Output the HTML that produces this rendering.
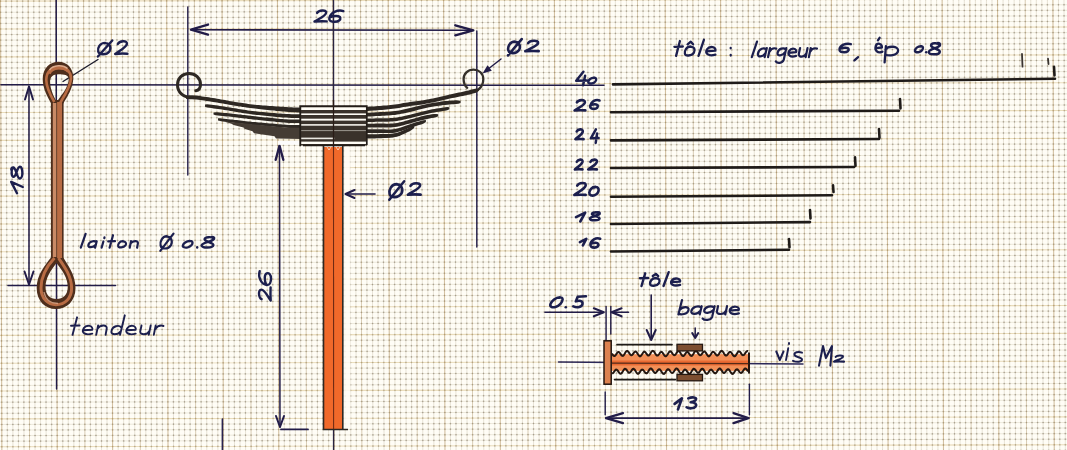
<!DOCTYPE html>
<html><head><meta charset="utf-8"><title>Ressort à lames</title>
<style>
html,body{margin:0;padding:0;background:#fffdf6;width:1067px;height:450px;overflow:hidden;}
svg{display:block;font-family:"Liberation Sans",sans-serif;}
</style></head><body>
<svg width="1067" height="450" viewBox="0 0 1067 450">
<rect width="1067" height="450" fill="#fffdf6"/>
<path d="M0 6.72L1067 4.74M0 12.29L1067 10.31M0 17.86L1067 15.88M0 23.43L1067 21.45M0 34.57L1067 32.59M0 40.14L1067 38.16M0 45.71L1067 43.73M0 51.28L1067 49.30M0 62.42L1067 60.44M0 67.99L1067 66.01M0 73.56L1067 71.58M0 79.13L1067 77.15M0 90.27L1067 88.29M0 95.84L1067 93.86M0 101.41L1067 99.43M0 106.98L1067 105.00M0 118.12L1067 116.14M0 123.69L1067 121.71M0 129.26L1067 127.28M0 134.83L1067 132.85M0 145.97L1067 143.99M0 151.54L1067 149.56M0 157.11L1067 155.13M0 162.68L1067 160.70M0 173.82L1067 171.84M0 179.39L1067 177.41M0 184.96L1067 182.98M0 190.53L1067 188.55M0 201.67L1067 199.69M0 207.24L1067 205.26M0 212.81L1067 210.83M0 218.38L1067 216.40M0 229.52L1067 227.54M0 235.09L1067 233.11M0 240.66L1067 238.68M0 246.23L1067 244.25M0 257.37L1067 255.39M0 262.94L1067 260.96M0 268.51L1067 266.53M0 274.08L1067 272.10M0 285.22L1067 283.24M0 290.79L1067 288.81M0 296.36L1067 294.38M0 301.93L1067 299.95M0 313.07L1067 311.09M0 318.64L1067 316.66M0 324.21L1067 322.23M0 329.78L1067 327.80M0 340.92L1067 338.94M0 346.49L1067 344.51M0 352.06L1067 350.08M0 357.63L1067 355.65M0 368.77L1067 366.79M0 374.34L1067 372.36M0 379.91L1067 377.93M0 385.48L1067 383.50M0 396.62L1067 394.64M0 402.19L1067 400.21M0 407.76L1067 405.78M0 413.33L1067 411.35M0 424.47L1067 422.49M0 430.04L1067 428.06M0 435.61L1067 433.63M0 441.18L1067 439.20M0 452.32L1067 450.34" stroke="rgba(160,148,108,0.22)" stroke-width="0.9" fill="none"/>
<path d="M6.05 0L7.40 450M11.59 0L12.94 450M17.13 0L18.48 450M22.67 0L24.02 450M33.74 0L35.09 450M39.28 0L40.63 450M44.82 0L46.17 450M50.36 0L51.71 450M61.44 0L62.79 450M66.98 0L68.33 450M72.52 0L73.87 450M78.06 0L79.41 450M89.13 0L90.48 450M94.67 0L96.02 450M100.21 0L101.56 450M105.75 0L107.10 450M116.83 0L118.18 450M122.37 0L123.72 450M127.91 0L129.26 450M133.45 0L134.80 450M144.52 0L145.87 450M150.06 0L151.41 450M155.60 0L156.95 450M161.14 0L162.49 450M172.22 0L173.57 450M177.76 0L179.11 450M183.30 0L184.65 450M188.84 0L190.19 450M199.91 0L201.26 450M205.45 0L206.80 450M210.99 0L212.34 450M216.53 0L217.88 450M227.61 0L228.96 450M233.15 0L234.50 450M238.69 0L240.04 450M244.23 0L245.58 450M255.30 0L256.65 450M260.84 0L262.19 450M266.38 0L267.73 450M271.92 0L273.27 450M283.00 0L284.35 450M288.54 0L289.89 450M294.08 0L295.43 450M299.62 0L300.97 450M310.69 0L312.04 450M316.23 0L317.58 450M321.77 0L323.12 450M327.31 0L328.66 450M338.39 0L339.74 450M343.93 0L345.28 450M349.47 0L350.82 450M355.01 0L356.36 450M366.08 0L367.43 450M371.62 0L372.97 450M377.16 0L378.51 450M382.70 0L384.05 450M393.78 0L395.13 450M399.32 0L400.67 450M404.86 0L406.21 450M410.40 0L411.75 450M421.47 0L422.82 450M427.01 0L428.36 450M432.55 0L433.90 450M438.09 0L439.44 450M449.17 0L450.52 450M454.71 0L456.06 450M460.25 0L461.60 450M465.79 0L467.14 450M476.86 0L478.21 450M482.40 0L483.75 450M487.94 0L489.29 450M493.48 0L494.83 450M504.56 0L505.91 450M510.10 0L511.45 450M515.64 0L516.99 450M521.18 0L522.53 450M532.25 0L533.60 450M537.79 0L539.14 450M543.33 0L544.68 450M548.87 0L550.22 450M559.95 0L561.30 450M565.49 0L566.84 450M571.03 0L572.38 450M576.57 0L577.92 450M587.64 0L588.99 450M593.18 0L594.53 450M598.72 0L600.07 450M604.26 0L605.61 450M615.34 0L616.69 450M620.88 0L622.23 450M626.42 0L627.77 450M631.96 0L633.31 450M643.03 0L644.38 450M648.57 0L649.92 450M654.11 0L655.46 450M659.65 0L661.00 450M670.73 0L672.08 450M676.27 0L677.62 450M681.81 0L683.16 450M687.35 0L688.70 450M698.42 0L699.77 450M703.96 0L705.31 450M709.50 0L710.85 450M715.04 0L716.39 450M726.12 0L727.47 450M731.66 0L733.01 450M737.20 0L738.55 450M742.74 0L744.09 450M753.81 0L755.16 450M759.35 0L760.70 450M764.89 0L766.24 450M770.43 0L771.78 450M781.51 0L782.86 450M787.05 0L788.40 450M792.59 0L793.94 450M798.13 0L799.48 450M809.20 0L810.55 450M814.74 0L816.09 450M820.28 0L821.63 450M825.82 0L827.17 450M836.90 0L838.25 450M842.44 0L843.79 450M847.98 0L849.33 450M853.52 0L854.87 450M864.59 0L865.94 450M870.13 0L871.48 450M875.67 0L877.02 450M881.21 0L882.56 450M892.29 0L893.64 450M897.83 0L899.18 450M903.37 0L904.72 450M908.91 0L910.26 450M919.98 0L921.33 450M925.52 0L926.87 450M931.06 0L932.41 450M936.60 0L937.95 450M947.68 0L949.03 450M953.22 0L954.57 450M958.76 0L960.11 450M964.30 0L965.65 450M975.37 0L976.72 450M980.91 0L982.26 450M986.45 0L987.80 450M991.99 0L993.34 450M1003.07 0L1004.42 450M1008.61 0L1009.96 450M1014.15 0L1015.50 450M1019.69 0L1021.04 450M1030.76 0L1032.11 450M1036.30 0L1037.65 450M1041.84 0L1043.19 450M1047.38 0L1048.73 450M1058.46 0L1059.81 450M1064.00 0L1065.35 450" stroke="rgba(150,138,105,0.25)" stroke-width="0.9" fill="none"/>
<path d="M0.49 -5.32L1.88 456M55.88 -5.42L57.27 456M111.27 -5.53L112.66 456M166.66 -5.63L168.05 456M222.05 -5.73L223.44 456M277.44 -5.84L278.83 456M332.83 -5.94L334.22 456M388.22 -6.04L389.61 456M443.61 -6.15L445.00 456M499.00 -6.25L500.39 456M554.39 -6.35L555.78 456M609.78 -6.45L611.17 456M665.19 -0.99L666.56 456M720.58 -1.09L721.95 456M775.97 -1.19L777.34 456M831.36 -1.30L832.73 456M886.75 -1.40L888.12 456M942.14 -1.50L943.51 456M997.53 -1.61L998.90 456M1052.91 -1.71L1054.29 456M28.19 -5.37L29.57 456M83.58 -5.48L84.96 456M138.97 -5.58L140.35 456M194.36 -5.68L195.74 456M249.75 -5.78L251.13 456M305.14 -5.89L306.52 456M360.53 -5.99L361.91 456M415.92 -6.09L417.30 456M471.31 -6.20L472.69 456M526.70 -6.30L528.08 456M582.09 -6.40L583.47 456M637.49 -0.94L638.86 456M692.88 -1.04L694.25 456M748.27 -1.14L749.64 456M803.66 -1.24L805.03 456M859.05 -1.35L860.42 456M914.44 -1.45L915.81 456M969.83 -1.55L971.20 456M1025.22 -1.66L1026.59 456M6.03 -5.33L7.42 456M11.57 -5.34L12.96 456M17.11 -5.35L18.50 456M22.65 -5.36L24.03 456M33.73 -5.38L35.11 456M39.27 -5.39L40.65 456M44.81 -5.40L46.19 456M50.34 -5.41L51.73 456M61.42 -5.43L62.81 456M66.96 -5.44L68.35 456M72.50 -5.45L73.88 456M78.04 -5.47L79.42 456M89.12 -5.49L90.50 456M94.66 -5.50L96.04 456M100.20 -5.51L101.58 456M105.73 -5.52L107.12 456M116.81 -5.54L118.20 456M122.35 -5.55L123.74 456M127.89 -5.56L129.27 456M133.43 -5.57L134.81 456M144.51 -5.59L145.89 456M150.05 -5.60L151.43 456M155.59 -5.61L156.97 456M161.12 -5.62L162.51 456M172.20 -5.64L173.59 456M177.74 -5.65L179.13 456M183.28 -5.66L184.66 456M188.82 -5.67L190.20 456M199.90 -5.69L201.28 456M205.44 -5.70L206.82 456M210.97 -5.71L212.36 456M216.51 -5.72L217.90 456M227.59 -5.74L228.98 456M233.13 -5.75L234.52 456M238.67 -5.76L240.05 456M244.21 -5.77L245.59 456M255.29 -5.79L256.67 456M260.83 -5.81L262.21 456M266.36 -5.82L267.75 456M271.90 -5.83L273.29 456M282.98 -5.85L284.37 456M288.52 -5.86L289.91 456M294.06 -5.87L295.44 456M299.60 -5.88L300.98 456M310.68 -5.90L312.06 456M316.22 -5.91L317.60 456M321.75 -5.92L323.14 456M327.29 -5.93L328.68 456M338.37 -5.95L339.76 456M343.91 -5.96L345.30 456M349.45 -5.97L350.83 456M354.99 -5.98L356.37 456M366.07 -6.00L367.45 456M371.60 -6.01L372.99 456M377.14 -6.02L378.53 456M382.68 -6.03L384.07 456M393.76 -6.05L395.15 456M399.30 -6.06L400.69 456M404.84 -6.07L406.22 456M410.38 -6.08L411.76 456M421.46 -6.10L422.84 456M426.99 -6.11L428.38 456M432.53 -6.12L433.92 456M438.07 -6.13L439.46 456M449.15 -6.16L450.54 456M454.69 -6.17L456.08 456M460.23 -6.18L461.61 456M465.77 -6.19L467.15 456M476.85 -6.21L478.23 456M482.38 -6.22L483.77 456M487.92 -6.23L489.31 456M493.46 -6.24L494.85 456M504.54 -6.26L505.93 456M510.08 -6.27L511.47 456M515.62 -6.28L517.00 456M521.16 -6.29L522.54 456M532.24 -6.31L533.62 456M537.77 -6.32L539.16 456M543.31 -6.33L544.70 456M548.85 -6.34L550.24 456M559.93 -6.36L561.32 456M565.47 -6.37L566.86 456M571.01 -6.38L572.39 456M576.55 -6.39L577.93 456M587.62 -6.41L589.01 456M593.16 -6.42L594.55 456M598.70 -6.43L600.09 456M604.24 -6.44L605.63 456M615.32 -6.46L616.71 456M620.88 -0.90L622.25 456M626.41 -0.92L627.78 456M631.95 -0.93L633.32 456M643.03 -0.95L644.40 456M648.57 -0.96L649.94 456M654.11 -0.97L655.48 456M659.65 -0.98L661.02 456M670.73 -1.00L672.10 456M676.26 -1.01L677.64 456M681.80 -1.02L683.17 456M687.34 -1.03L688.71 456M698.42 -1.05L699.79 456M703.96 -1.06L705.33 456M709.50 -1.07L710.87 456M715.04 -1.08L716.41 456M726.12 -1.10L727.49 456M731.65 -1.11L733.03 456M737.19 -1.12L738.56 456M742.73 -1.13L744.10 456M753.81 -1.15L755.18 456M759.35 -1.16L760.72 456M764.89 -1.17L766.26 456M770.43 -1.18L771.80 456M781.51 -1.20L782.88 456M787.04 -1.21L788.42 456M792.58 -1.22L793.96 456M798.12 -1.23L799.49 456M809.20 -1.26L810.57 456M814.74 -1.27L816.11 456M820.28 -1.28L821.65 456M825.82 -1.29L827.19 456M836.90 -1.31L838.27 456M842.43 -1.32L843.81 456M847.97 -1.33L849.35 456M853.51 -1.34L854.88 456M864.59 -1.36L865.96 456M870.13 -1.37L871.50 456M875.67 -1.38L877.04 456M881.21 -1.39L882.58 456M892.28 -1.41L893.66 456M897.82 -1.42L899.20 456M903.36 -1.43L904.74 456M908.90 -1.44L910.27 456M919.98 -1.46L921.35 456M925.52 -1.47L926.89 456M931.06 -1.48L932.43 456M936.60 -1.49L937.97 456M947.67 -1.51L949.05 456M953.21 -1.52L954.59 456M958.75 -1.53L960.12 456M964.29 -1.54L965.66 456M975.37 -1.56L976.74 456M980.91 -1.57L982.28 456M986.45 -1.58L987.82 456M991.99 -1.60L993.36 456M1003.06 -1.62L1004.44 456M1008.60 -1.63L1009.98 456M1014.14 -1.64L1015.51 456M1019.68 -1.65L1021.05 456M1030.76 -1.67L1032.13 456M1036.30 -1.68L1037.67 456M1041.84 -1.69L1043.21 456M1047.38 -1.70L1048.75 456M1058.45 -1.72L1059.83 456M1063.99 -1.73L1065.37 456" stroke="rgba(115,104,85,0.30)" stroke-width="1" fill="none" stroke-dasharray="1.8 3.770"/>
<path d="M-5.84 29.01L1073 27.00M-5.67 84.71L1073 82.70M-5.51 140.41L1073 138.40M-5.34 196.11L1073 194.10M-5.17 251.81L1073 249.80M-5.01 307.51L1073 305.50M-4.84 363.21L1073 361.20M-4.67 418.91L1073 416.90M-5.93 1.16L1073 -0.85M-5.76 56.86L1073 54.85M-5.59 112.56L1073 110.55M-5.42 168.26L1073 166.25M-5.26 223.96L1073 221.95M-5.09 279.66L1073 277.65M-4.92 335.36L1073 333.35M-4.76 391.06L1073 389.05M-4.59 446.76L1073 444.75M-5.91 6.73L1073 4.72M-5.89 12.30L1073 10.29M-5.88 17.87L1073 15.86M-5.86 23.44L1073 21.43M-5.83 34.58L1073 32.57M-5.81 40.15L1073 38.14M-5.79 45.72L1073 43.71M-5.78 51.29L1073 49.28M-5.74 62.43L1073 60.42M-5.73 68.00L1073 65.99M-5.71 73.57L1073 71.56M-5.69 79.14L1073 77.13M-5.66 90.28L1073 88.27M-5.64 95.85L1073 93.84M-5.62 101.42L1073 99.41M-5.61 106.99L1073 104.98M-5.57 118.13L1073 116.12M-5.56 123.70L1073 121.69M-5.54 129.27L1073 127.26M-5.52 134.84L1073 132.83M-5.49 145.98L1073 143.97M-5.47 151.55L1073 149.54M-5.46 157.12L1073 155.11M-5.44 162.69L1073 160.68M-5.41 173.83L1073 171.82M-5.39 179.40L1073 177.39M-5.37 184.97L1073 182.96M-5.36 190.54L1073 188.53M-5.32 201.68L1073 199.67M-5.31 207.25L1073 205.24M-5.29 212.82L1073 210.81M-5.27 218.39L1073 216.38M-5.24 229.53L1073 227.52M-5.22 235.10L1073 233.09M-5.21 240.67L1073 238.66M-5.19 246.24L1073 244.23M-5.16 257.38L1073 255.37M-5.14 262.95L1073 260.94M-5.12 268.52L1073 266.51M-5.11 274.09L1073 272.08M-5.07 285.23L1073 283.22M-5.06 290.80L1073 288.79M-5.04 296.37L1073 294.36M-5.02 301.94L1073 299.93M-4.99 313.08L1073 311.07M-4.97 318.65L1073 316.64M-4.96 324.22L1073 322.21M-4.94 329.79L1073 327.78M-4.91 340.93L1073 338.92M-4.89 346.50L1073 344.49M-4.87 352.07L1073 350.06M-4.86 357.64L1073 355.63M-4.82 368.78L1073 366.77M-4.81 374.35L1073 372.34M-4.79 379.92L1073 377.91M-4.77 385.49L1073 383.48M-4.74 396.63L1073 394.62M-4.72 402.20L1073 400.19M-4.71 407.77L1073 405.76M-4.69 413.34L1073 411.33M-4.66 424.48L1073 422.47M-4.64 430.05L1073 428.04M-4.62 435.62L1073 433.61M-4.61 441.19L1073 439.18M-4.57 452.33L1073 450.32" stroke="rgba(115,104,85,0.30)" stroke-width="1" fill="none" stroke-dasharray="1.8 3.739"/>
<path d="M0 1.15L1067 -0.83M0 56.85L1067 54.87M0 112.55L1067 110.57M0 168.25L1067 166.27M0 223.95L1067 221.97M0 279.65L1067 277.67M0 335.35L1067 333.37M0 391.05L1067 389.07M0 446.75L1067 444.77M0 29.00L1067 27.02M0 84.70L1067 82.72M0 140.40L1067 138.42M0 196.10L1067 194.12M0 251.80L1067 249.82M0 307.50L1067 305.52M0 363.20L1067 361.22M0 418.90L1067 416.92" stroke="rgba(200,170,100,0.40)" stroke-width="1.1" fill="none"/>
<path d="M28.20 0L29.55 450M83.59 0L84.94 450M138.98 0L140.33 450M194.38 0L195.72 450M249.76 0L251.11 450M305.15 0L306.50 450M360.54 0L361.89 450M415.93 0L417.28 450M471.32 0L472.67 450M526.72 0L528.07 450M582.10 0L583.45 450M637.49 0L638.84 450M692.88 0L694.24 450M748.27 0L749.62 450M803.66 0L805.01 450M859.05 0L860.40 450M914.44 0L915.79 450M969.83 0L971.18 450M1025.22 0L1026.57 450" stroke="rgba(165,138,90,0.42)" stroke-width="1.0" fill="none"/>
<path d="M0.51 0L1.86 450M55.90 0L57.25 450M111.29 0L112.64 450M166.68 0L168.03 450M222.07 0L223.42 450M277.46 0L278.81 450M332.85 0L334.20 450M388.24 0L389.59 450M443.63 0L444.98 450M499.02 0L500.37 450M554.41 0L555.76 450M609.80 0L611.15 450M665.19 0L666.54 450M720.58 0L721.93 450M775.97 0L777.32 450M831.36 0L832.71 450M886.75 0L888.10 450M942.14 0L943.49 450M997.53 0L998.88 450M1052.92 0L1054.27 450" stroke="rgba(170,138,85,0.52)" stroke-width="1.1" fill="none"/>
<rect x="344" y="147" width="6.5" height="282" fill="#fffdf6" opacity="0.85"/>
<path d="M1 84.8L604 85.3" stroke="#221c48" stroke-width="1.6" fill="none" stroke-linecap="round" />
<path d="M56.2 0L56.6 389" stroke="#221c48" stroke-width="1.5" fill="none" stroke-linecap="round" />
<path d="M8 285.5L115.5 285.5" stroke="#221c48" stroke-width="1.6" fill="none" stroke-linecap="round" />
<path d="M29 87L29 284" stroke="#221c48" stroke-width="1.5" fill="none" stroke-linecap="round" />
<path d="M33.0 99.5L29 86.5L25.0 99.5" stroke="#221c48" stroke-width="2.0" fill="none" stroke-linecap="round" stroke-linejoin="round"/>
<path d="M24.5 271.5L29 284.5L33.5 271.5" stroke="#221c48" stroke-width="2.0" fill="none" stroke-linecap="round" stroke-linejoin="round"/>
<path d="M187.8 7L187.8 175" stroke="#221c48" stroke-width="1.4" fill="none" stroke-linecap="round" />
<path d="M476.8 31L476.8 247" stroke="#221c48" stroke-width="1.4" fill="none" stroke-linecap="round" />
<path d="M191 29.8L473 30.2" stroke="#221c48" stroke-width="1.6" fill="none" stroke-linecap="round" />
<path d="M208.0 24.6L191 29.6L208.0 34.6" stroke="#221c48" stroke-width="2.4" fill="none" stroke-linecap="round" stroke-linejoin="round"/>
<path d="M455.3 35.3L473.3 30.3L455.3 25.3" stroke="#221c48" stroke-width="2.4" fill="none" stroke-linecap="round" stroke-linejoin="round"/>
<path d="M333.5 0L333.6 450" stroke="#2a2440" stroke-width="1.4" fill="none" stroke-linecap="round" />
<path d="M279.5 146L280 427" stroke="#221c48" stroke-width="1.5" fill="none" stroke-linecap="round" />
<path d="M283.3 159.8L279.5 145.8L275.7 159.8" stroke="#221c48" stroke-width="2.4" fill="none" stroke-linecap="round" stroke-linejoin="round"/>
<path d="M276.0 416.0L280 427L284.0 416.0" stroke="#221c48" stroke-width="2.0" fill="none" stroke-linecap="round" stroke-linejoin="round"/>
<rect x="278" y="141" width="21" height="3.6" fill="#fcfcfc"/>
<path d="M281 429.4L308 429.4" stroke="#221c48" stroke-width="1.8" fill="none" stroke-linecap="round" />
<path d="M222.4 419L222.4 450" stroke="#2a2450" stroke-width="1.6" fill="none" stroke-linecap="round" />
<path d="M346 194L375 194" stroke="#221c48" stroke-width="1.6" fill="none" stroke-linecap="round" />
<path d="M354.5 190.0L345.5 194L354.5 198.0" stroke="#221c48" stroke-width="2.0" fill="none" stroke-linecap="round" stroke-linejoin="round"/>
<path d="M63 81.5L98 59.5" stroke="#1c1c2c" stroke-width="1.4" fill="none" stroke-linecap="round" />
<path d="M501 59L485 71.5" stroke="#221c48" stroke-width="1.5" fill="none" stroke-linecap="round" />
<path d="M487.5 65.2L482.5 73.5L491.8 70.8Z" fill="#221c48"/>
<path d="M558.5 362L803 364" stroke="#2c2858" stroke-width="1.5" fill="none" stroke-linecap="round" />
<path d="M545 312.3L603 312.3" stroke="#221c48" stroke-width="1.6" fill="none" stroke-linecap="round" />
<path d="M593.8 316.3L603.8 312.3L593.8 308.3" stroke="#221c48" stroke-width="2.0" fill="none" stroke-linecap="round" stroke-linejoin="round"/>
<path d="M606.1 306.5L606.1 341" stroke="#221c48" stroke-width="1.4" fill="none" stroke-linecap="round" />
<path d="M610.8 306.5L610.8 334" stroke="#221c48" stroke-width="1.4" fill="none" stroke-linecap="round" />
<path d="M612 312.3L628.5 312.3" stroke="#221c48" stroke-width="1.6" fill="none" stroke-linecap="round" />
<path d="M621.6 308.3L611.6 312.3L621.6 316.3" stroke="#221c48" stroke-width="2.0" fill="none" stroke-linecap="round" stroke-linejoin="round"/>
<path d="M651.2 295L651.2 339" stroke="#221c48" stroke-width="1.6" fill="none" stroke-linecap="round" />
<path d="M646.7 330.0L651.2 340L655.7 330.0" stroke="#221c48" stroke-width="2.0" fill="none" stroke-linecap="round" stroke-linejoin="round"/>
<path d="M695.2 328L695.2 337" stroke="#221c48" stroke-width="1.5" fill="none" stroke-linecap="round" />
<path d="M692.2 333.0L695.2 338L698.2 333.0" stroke="#221c48" stroke-width="2.0" fill="none" stroke-linecap="round" stroke-linejoin="round"/>
<path d="M605.2 392L605.2 414.7" stroke="#221c48" stroke-width="1.4" fill="none" stroke-linecap="round" />
<path d="M749.4 384.3L749.4 414.7" stroke="#221c48" stroke-width="1.4" fill="none" stroke-linecap="round" />
<path d="M606 418.1L749 418.1" stroke="#221c48" stroke-width="1.6" fill="none" stroke-linecap="round" />
<path d="M623.0 413.1L606 418.1L623.0 423.1" stroke="#221c48" stroke-width="2.2" fill="none" stroke-linecap="round" stroke-linejoin="round"/>
<path d="M733.5 423.1L748.5 418.1L733.5 413.1" stroke="#221c48" stroke-width="2.2" fill="none" stroke-linecap="round" stroke-linejoin="round"/>
<path d="M613 84.4L1055 78.7" stroke="#1f1b19" stroke-width="2.6" fill="none" stroke-linecap="round" />
<path d="M1054 66.7L1054.5 75.4" stroke="#1f1b19" stroke-width="2.6" fill="none" stroke-linecap="round" />
<path d="M611 112.2L899 110.7" stroke="#1f1b19" stroke-width="2.6" fill="none" stroke-linecap="round" />
<path d="M900 99L900.5 108.4" stroke="#1f1b19" stroke-width="2.6" fill="none" stroke-linecap="round" />
<path d="M611 140.4L879 139.0" stroke="#1f1b19" stroke-width="2.6" fill="none" stroke-linecap="round" />
<path d="M879 129L879.5 137.8" stroke="#1f1b19" stroke-width="2.6" fill="none" stroke-linecap="round" />
<path d="M611 168.0L854 167.0" stroke="#1f1b19" stroke-width="2.6" fill="none" stroke-linecap="round" />
<path d="M855 157.3L855.5 165.9" stroke="#1f1b19" stroke-width="2.6" fill="none" stroke-linecap="round" />
<path d="M611 196.8L832 195.2" stroke="#1f1b19" stroke-width="2.6" fill="none" stroke-linecap="round" />
<path d="M833 185.4L833.5 192" stroke="#1f1b19" stroke-width="2.6" fill="none" stroke-linecap="round" />
<path d="M611 224.0L810 222.1" stroke="#1f1b19" stroke-width="2.6" fill="none" stroke-linecap="round" />
<path d="M810 210L810.5 218.4" stroke="#1f1b19" stroke-width="2.6" fill="none" stroke-linecap="round" />
<path d="M611 251.5L789 249.7" stroke="#1f1b19" stroke-width="2.6" fill="none" stroke-linecap="round" />
<path d="M789 239L789.5 247.3" stroke="#1f1b19" stroke-width="2.6" fill="none" stroke-linecap="round" />
<path d="M1022 54L1022.5 66.7" stroke="#3a3430" stroke-width="1.8" fill="none" stroke-linecap="round" />
<path d="M1048 58.7L1048.5 64" stroke="#3a3430" stroke-width="1.8" fill="none" stroke-linecap="round" />
<rect x="51" y="100" width="12.6" height="160" fill="#4e2e1c"/>
<path d="M51.5 112 L51.5 104 C47 96 42.7 88 42.7 79 C42.7 68 50 61.7 58.5 61.7 C67 61.7 73.3 68 73.3 77.7 C73.3 88 67 97 63 104 L63 112 Z M56.7 101.7 C53 95 50 88 50 81.7 C50 77 53 74.3 58.5 74.3 C64 74.3 68.7 75 68.7 79 C68.7 87 61 96 56.7 101.7 Z" fill="#4e2e1c" fill-rule="evenodd"/>
<path d="M54.3 102 C49 93 46.3 86 46.3 80 C46.3 72 51 68 58.5 68 C65.5 68 71 71 71 78 C71 86 65 95 60 103" stroke="#b86c44" stroke-width="2.6" fill="none"/>
<path d="M49 73.5 C52 66.5 64 66 68.5 71.5" stroke="#b86c44" stroke-width="3.4" fill="none"/>
<path d="M49.5 70 C53 64.8 63.5 64.5 67.5 68.5" stroke="#dcaa8c" stroke-width="1.5" fill="none"/>
<path d="M51.5 250 L51.5 257 C45 265 36.7 275 36.7 288 C36.7 301 45 309 56 309 C67 309 75.5 301 75.5 288 C75.5 275 68 265 62.8 257 L62.8 250 Z M56.5 263 C51 270 45.5 278 45.5 287 C45.5 295 50 299 56.5 299 C63 299 67.8 295 67.8 287 C67.8 278 62 270 56.5 263 Z" fill="#4e2e1c" fill-rule="evenodd"/>
<path d="M54.5 258 C47 266 41 276 41 288 C41 298.5 48 304.7 56 304.7 C65 304.7 71.6 298.5 71.6 288 C71.6 276 64 266 58.5 258" stroke="#b86c44" stroke-width="3" fill="none"/>
<path d="M44 292 C45.5 300 51 303.5 58 303.5" stroke="#dcaa8c" stroke-width="1.3" fill="none" opacity="0.8"/>
<rect x="52.8" y="103" width="3.5" height="154" fill="#c98a66"/>
<rect x="57.1" y="102" width="4.9" height="156" fill="#b86c44"/>
<path d="M191 97.3 C182.5 97.3 177.5 91.5 177.5 85 C177.5 78 182.5 73.5 189 73.5 C195.5 73.5 200.5 78 200.5 84.5 C200.5 88 198.5 90.3 195.8 90.8" stroke="#2e2823" stroke-width="3" fill="none" stroke-linecap="round"/>
<path d="M479 89 C482 86.5 483.3 83 483.3 79 C483.3 73.5 479 69.6 473.5 69.6 C467.8 69.6 463.6 73.8 463.6 79 C463.6 83 465 86 467.2 87.8" stroke="#35302b" stroke-width="2.3" fill="none" stroke-linecap="round"/>
<path d="M186.0 96.5L188.0 95.7L189.8 95.4L192.0 95.3L195.0 95.5L196.6 95.6L198.3 95.8L200.2 96.1L202.2 96.4L204.3 96.7L206.5 97.0L208.7 97.3L210.8 97.7L213.0 98.0L215.0 98.3L217.0 98.7L219.0 99.0L221.0 99.4L223.0 99.8L225.0 100.1L227.0 100.5L229.0 100.9L231.0 101.2L233.0 101.6L235.0 101.9L237.0 102.2L238.8 102.5L240.7 102.8L242.5 103.1L244.3 103.3L246.2 103.6L248.2 103.9L250.3 104.2L252.6 104.4L255.0 104.7L256.8 104.9L258.7 105.0L260.8 105.2L262.9 105.4L265.1 105.5L267.4 105.7L269.7 105.9L272.0 106.1L274.2 106.2L276.4 106.4L278.6 106.5L280.6 106.7L282.6 106.8L284.4 106.9L286.0 107.0L289.0 107.2L291.5 107.3L293.5 107.4L295.4 107.4L297.2 107.4L299.0 107.4L301.0 107.5L301.0 112.5L299.0 112.4L297.2 112.4L295.4 112.3L293.5 112.3L291.5 112.2L289.0 112.0L286.0 111.8L284.4 111.6L282.6 111.5L280.6 111.3L278.6 111.1L276.4 110.9L274.2 110.6L272.0 110.4L269.7 110.2L267.4 109.9L265.1 109.7L262.9 109.4L260.8 109.2L258.7 109.0L256.8 108.7L255.0 108.5L252.6 108.2L250.3 108.0L248.2 107.7L246.2 107.4L244.3 107.1L242.5 106.9L240.7 106.6L238.8 106.3L237.0 106.0L235.0 105.7L233.0 105.4L231.0 105.0L229.0 104.7L227.0 104.3L225.0 104.0L223.0 103.6L221.0 103.3L219.0 102.9L217.0 102.6L215.0 102.2L213.0 101.9L210.8 101.6L208.7 101.2L206.5 100.9L204.3 100.6L202.2 100.3L200.2 100.0L198.3 99.7L196.6 99.5L195.0 99.4L192.0 99.2L189.8 99.2L188.0 99.2L186.0 98.7Z" fill="#2e2823"/>
<path d="M205.0 104.5L207.1 104.3L209.3 104.5L211.4 104.8L213.6 105.0L215.7 105.3L217.9 105.6L220.0 105.9L222.1 106.2L224.1 106.5L226.2 106.9L228.2 107.2L230.3 107.6L232.6 107.9L235.0 108.3L236.7 108.6L238.5 108.9L240.3 109.2L242.1 109.5L244.0 109.8L246.0 110.1L248.0 110.4L250.2 110.7L252.5 111.0L255.0 111.3L256.8 111.5L258.7 111.7L260.8 111.9L262.9 112.1L265.1 112.3L267.4 112.5L269.7 112.7L272.0 112.9L274.2 113.1L276.4 113.3L278.6 113.4L280.6 113.6L282.6 113.7L284.4 113.8L286.0 114.0L289.0 114.1L291.5 114.2L293.5 114.3L295.4 114.3L297.2 114.3L299.0 114.3L301.0 114.3L301.0 118.1L299.0 118.1L297.2 118.0L295.4 118.0L293.5 118.0L291.5 118.0L289.0 117.8L286.0 117.6L284.4 117.5L282.6 117.4L280.6 117.2L278.6 117.0L276.4 116.9L274.2 116.7L272.0 116.4L269.7 116.2L267.4 116.0L265.1 115.8L262.9 115.6L260.8 115.3L258.7 115.1L256.8 114.9L255.0 114.7L252.5 114.4L250.2 114.1L248.0 113.8L246.0 113.5L244.0 113.2L242.1 112.9L240.3 112.6L238.5 112.3L236.7 112.0L235.0 111.7L232.6 111.3L230.3 111.0L228.2 110.6L226.2 110.3L224.1 109.9L222.1 109.6L220.0 109.3L217.9 109.0L215.7 108.7L213.6 108.4L211.4 108.1L209.3 107.8L207.1 107.4L205.0 106.7Z" fill="#2e2823"/>
<path d="M213.5 112.4L215.7 112.2L217.8 112.3L220.0 112.5L222.2 112.7L224.3 112.9L226.5 113.1L228.7 113.3L230.8 113.5L232.9 113.7L235.0 113.9L237.0 114.2L238.9 114.4L240.8 114.6L242.6 114.9L244.4 115.1L246.3 115.3L248.2 115.6L250.3 115.8L252.6 116.1L255.0 116.3L256.8 116.5L258.7 116.7L260.8 116.9L262.9 117.2L265.1 117.4L267.4 117.6L269.7 117.8L272.0 118.1L274.2 118.3L276.4 118.5L278.6 118.7L280.6 118.9L282.6 119.0L284.4 119.2L286.0 119.3L289.0 119.5L291.5 119.6L293.5 119.6L295.4 119.6L297.2 119.6L299.0 119.6L301.0 119.7L301.0 123.2L299.0 123.1L297.2 123.1L295.4 123.1L293.5 123.1L291.5 123.0L289.0 122.9L286.0 122.7L284.4 122.6L282.6 122.4L280.6 122.2L278.6 122.1L276.4 121.9L274.2 121.6L272.0 121.4L269.7 121.2L267.4 121.0L265.1 120.7L262.9 120.5L260.8 120.3L258.7 120.0L256.8 119.8L255.0 119.7L252.6 119.4L250.3 119.1L248.2 118.9L246.3 118.6L244.4 118.4L242.6 118.2L240.8 117.9L238.9 117.7L237.0 117.5L235.0 117.2L232.9 117.0L230.8 116.8L228.7 116.6L226.5 116.4L224.3 116.2L222.2 115.9L220.0 115.7L217.8 115.5L215.7 115.2L213.5 114.6Z" fill="#2e2823"/>
<path d="M218.0 118.3L220.1 118.3L222.2 118.4L224.2 118.7L226.3 118.9L228.4 119.2L230.5 119.4L232.7 119.6L235.0 119.9L236.8 120.1L238.6 120.3L240.4 120.5L242.3 120.7L244.1 121.0L246.1 121.2L248.1 121.4L250.2 121.6L252.5 121.9L255.0 122.1L256.8 122.3L258.7 122.4L260.8 122.6L262.9 122.8L265.1 123.0L267.4 123.2L269.7 123.4L272.0 123.6L274.2 123.8L276.4 124.0L278.6 124.2L280.6 124.3L282.6 124.5L284.4 124.6L286.0 124.7L289.0 124.9L291.5 125.0L293.5 125.0L295.4 125.0L297.2 125.0L299.0 125.1L301.0 125.1L301.0 128.1L299.0 128.1L297.2 128.0L295.4 128.0L293.5 128.0L291.5 128.0L289.0 127.9L286.0 127.7L284.4 127.6L282.6 127.5L280.6 127.3L278.6 127.2L276.4 127.0L274.2 126.8L272.0 126.6L269.7 126.4L267.4 126.2L265.1 126.0L262.9 125.8L260.8 125.6L258.7 125.4L256.8 125.3L255.0 125.1L252.5 124.9L250.2 124.6L248.1 124.4L246.1 124.2L244.1 124.0L242.3 123.7L240.4 123.5L238.6 123.3L236.8 123.1L235.0 122.9L232.7 122.6L230.5 122.4L228.4 122.1L226.3 121.9L224.2 121.6L222.2 121.4L220.1 121.0L218.0 120.5Z" fill="#2e2823"/>
<path d="M222 121 L235 122.5 L255 124.6 L286 127.4 L301 127.8 L301 139 L276 138.6 L274.5 136.3 L254 133.2 L252.5 131.3 L245 129 L243.5 127.4 L233.5 125 L231.5 123.8 Z" fill="#453c34"/>
<path d="M366.0 106.9L368.0 106.8L370.0 106.6L371.9 106.5L373.9 106.4L375.9 106.2L377.9 106.1L380.0 105.9L382.1 105.7L384.2 105.6L386.4 105.4L388.5 105.2L390.7 105.0L392.8 104.8L395.0 104.5L397.1 104.2L399.2 103.9L401.3 103.5L403.4 103.1L405.6 102.7L407.8 102.4L410.0 102.0L412.0 101.7L414.0 101.5L416.0 101.2L418.0 101.0L420.1 100.7L422.3 100.4L424.6 100.0L427.0 99.6L428.9 99.2L430.9 98.8L432.9 98.4L435.0 97.9L437.2 97.5L439.4 97.0L441.6 96.5L443.8 96.0L445.9 95.5L448.0 95.0L450.0 94.6L452.2 94.1L454.4 93.6L456.6 93.1L458.7 92.6L460.9 92.2L462.9 91.7L464.9 91.2L466.8 90.8L468.5 90.4L470.0 90.0L473.0 89.3L475.2 88.7L477.0 88.5L479.0 88.8L479.0 90.8L477.0 92.2L475.2 93.0L473.0 93.6L470.0 94.4L468.5 94.7L466.8 95.1L464.9 95.5L462.9 95.9L460.9 96.3L458.7 96.8L456.6 97.2L454.4 97.7L452.2 98.1L450.0 98.6L448.0 99.0L445.9 99.5L443.8 100.0L441.6 100.5L439.4 101.0L437.2 101.5L435.0 101.9L432.9 102.4L430.9 102.8L428.9 103.2L427.0 103.6L424.6 104.0L422.3 104.4L420.1 104.7L418.0 105.0L416.0 105.2L414.0 105.5L412.0 105.7L410.0 106.0L407.8 106.4L405.6 106.7L403.4 107.1L401.3 107.5L399.2 107.9L397.1 108.2L395.0 108.5L392.8 108.8L390.7 109.0L388.5 109.3L386.4 109.5L384.2 109.7L382.1 109.9L380.0 110.1L377.9 110.3L375.9 110.4L373.9 110.6L371.9 110.7L370.0 110.8L368.0 111.0L366.0 111.1Z" fill="#2e2823"/>
<path d="M366.0 112.9L368.0 112.8L370.0 112.7L371.9 112.6L373.9 112.5L375.9 112.3L377.9 112.2L380.0 112.1L382.1 112.0L384.2 111.9L386.4 111.8L388.5 111.7L390.7 111.5L392.8 111.3L395.0 111.1L397.1 110.8L399.2 110.4L401.3 110.0L403.4 109.6L405.6 109.1L407.8 108.6L410.0 108.1L412.0 107.6L414.1 107.1L416.2 106.6L418.3 106.0L420.5 105.4L422.6 104.9L424.8 104.4L427.0 103.9L429.0 103.5L431.0 103.2L433.0 102.8L435.1 102.5L437.1 102.2L439.1 101.9L441.1 101.6L443.1 101.3L445.0 101.1L447.4 100.9L449.6 100.7L451.9 100.5L454.0 100.4L456.2 100.3L458.4 100.4L460.6 100.9L460.6 102.9L458.4 103.7L456.2 104.1L454.0 104.2L451.9 104.3L449.6 104.5L447.4 104.7L445.0 104.9L443.1 105.1L441.1 105.4L439.1 105.7L437.1 106.0L435.1 106.3L433.0 106.6L431.0 107.0L429.0 107.3L427.0 107.7L424.8 108.2L422.6 108.7L420.5 109.2L418.3 109.8L416.2 110.4L414.1 110.9L412.0 111.4L410.0 111.9L407.8 112.4L405.6 112.9L403.4 113.4L401.3 113.8L399.2 114.2L397.1 114.6L395.0 114.9L392.8 115.1L390.7 115.3L388.5 115.5L386.4 115.6L384.2 115.7L382.1 115.8L380.0 115.9L377.9 116.0L375.9 116.1L373.9 116.3L371.9 116.4L370.0 116.5L368.0 116.6L366.0 116.7Z" fill="#2e2823"/>
<path d="M366.0 118.5L368.0 118.4L370.0 118.4L371.9 118.4L373.9 118.4L375.9 118.3L377.9 118.3L380.0 118.2L382.1 118.2L384.2 118.2L386.4 118.2L388.5 118.2L390.7 118.1L392.8 118.0L395.0 117.8L397.1 117.5L399.1 117.1L401.2 116.7L403.2 116.3L405.3 115.8L407.6 115.3L410.0 114.8L411.8 114.3L413.7 113.8L415.7 113.3L417.7 112.8L419.7 112.3L421.8 111.7L423.9 111.2L426.0 110.7L428.0 110.2L430.0 109.8L432.2 109.3L434.4 108.9L436.5 108.5L438.7 108.2L440.8 107.9L443.0 107.5L445.1 107.2L447.2 107.1L449.4 107.3L449.4 109.3L447.2 110.2L445.1 110.7L443.0 111.0L440.8 111.4L438.7 111.7L436.5 112.0L434.4 112.4L432.2 112.8L430.0 113.2L428.0 113.7L426.0 114.2L423.9 114.7L421.8 115.2L419.7 115.8L417.7 116.3L415.7 116.8L413.7 117.3L411.8 117.8L410.0 118.2L407.6 118.8L405.3 119.3L403.2 119.8L401.2 120.2L399.1 120.6L397.1 121.0L395.0 121.2L392.8 121.5L390.7 121.6L388.5 121.7L386.4 121.7L384.2 121.7L382.1 121.7L380.0 121.8L377.9 121.8L375.9 121.8L373.9 121.9L371.9 121.9L370.0 121.9L368.0 121.9L366.0 122.0Z" fill="#2e2823"/>
<path d="M366.0 123.7L368.0 123.7L370.0 123.7L371.9 123.7L373.9 123.7L375.9 123.6L377.9 123.6L380.0 123.6L382.1 123.6L384.2 123.6L386.4 123.7L388.5 123.7L390.7 123.6L392.8 123.5L395.0 123.3L397.1 123.0L399.3 122.5L401.4 122.0L403.6 121.4L405.7 120.8L407.9 120.2L410.0 119.6L412.2 119.0L414.3 118.4L416.5 117.8L418.7 117.2L420.8 116.6L423.0 116.1L425.0 115.6L427.3 115.1L429.5 114.7L431.7 114.3L433.9 114.0L436.0 113.9L438.2 114.2L438.2 116.2L436.0 117.2L433.9 117.8L431.7 118.1L429.5 118.5L427.3 118.9L425.0 119.4L423.0 119.9L420.8 120.4L418.7 121.0L416.5 121.6L414.3 122.2L412.2 122.8L410.0 123.4L407.9 124.0L405.7 124.6L403.6 125.2L401.4 125.8L399.3 126.3L397.1 126.8L395.0 127.1L392.8 127.3L390.7 127.4L388.5 127.5L386.4 127.5L384.2 127.4L382.1 127.4L380.0 127.4L377.9 127.4L375.9 127.4L373.9 127.5L371.9 127.5L370.0 127.5L368.0 127.5L366.0 127.5Z" fill="#2e2823"/>
<path d="M366.0 129.3L368.0 129.3L370.0 129.3L371.9 129.3L373.9 129.3L375.9 129.3L377.9 129.3L380.0 129.2L382.1 129.3L384.2 129.3L386.4 129.4L388.5 129.4L390.7 129.4L392.8 129.2L395.0 129.0L397.1 128.5L399.3 127.9L401.4 127.2L403.5 126.5L405.6 125.7L407.8 124.9L410.0 124.2L412.2 123.5L414.5 122.8L416.8 122.1L419.0 121.4L421.3 120.7L423.6 120.2L425.9 120.1L425.9 122.1L423.6 123.4L421.3 124.4L419.0 125.1L416.8 125.8L414.5 126.5L412.2 127.2L410.0 127.8L407.8 128.6L405.6 129.4L403.5 130.2L401.4 130.9L399.3 131.6L397.1 132.2L395.0 132.7L392.8 132.9L390.7 133.1L388.5 133.1L386.4 133.1L384.2 133.0L382.1 133.0L380.0 132.9L377.9 133.0L375.9 133.0L373.9 133.0L371.9 133.0L370.0 133.0L368.0 133.0L366.0 133.0Z" fill="#2e2823"/>
<path d="M366.0 134.2L368.0 134.2L370.0 134.2L371.9 134.2L373.9 134.2L375.9 134.2L377.9 134.2L380.0 134.1L382.1 134.0L384.4 134.0L386.6 134.0L388.9 133.9L391.0 133.8L393.1 133.6L395.0 133.3L397.3 132.8L399.4 132.1L401.3 131.3L403.1 130.4L405.0 129.6L407.4 128.5L409.7 127.4L411.9 126.4L414.2 125.9L414.2 127.9L411.9 129.7L409.7 131.2L407.4 132.3L405.0 133.4L403.1 134.2L401.3 135.1L399.4 135.9L397.3 136.6L395.0 137.1L393.1 137.4L391.0 137.6L388.9 137.7L386.6 137.8L384.4 137.8L382.1 137.8L380.0 137.9L377.9 138.0L375.9 138.0L373.9 138.0L371.9 138.0L370.0 138.0L368.0 138.0L366.0 138.0Z" fill="#2e2823"/>
<path d="M366.0 135.5L368.1 135.5L370.3 135.4L372.6 135.4L374.8 135.4L377.0 135.3L379.1 135.3L381.2 135.2L383.2 135.1L385.0 135.0L387.6 134.8L390.0 134.5L392.3 134.2L394.4 133.8L396.3 133.4L398.0 133.0L400.5 132.1L402.3 131.2L404.0 130.5L404.0 132.5L402.3 133.8L400.5 135.0L398.0 136.0L396.3 136.4L394.4 136.8L392.3 137.2L390.0 137.5L387.6 137.8L385.0 138.0L383.2 138.1L381.2 138.2L379.1 138.3L377.0 138.3L374.8 138.4L372.6 138.4L370.3 138.4L368.1 138.5L366.0 138.5Z" fill="#2e2823"/>
<rect x="300" y="106" width="67" height="39.5" fill="#3a322b"/>
<rect x="301.2" y="107.3" width="65" height="2.7" fill="#fffdf6" opacity="1.0"/>
<rect x="301.2" y="113.4" width="65" height="1.6" fill="#fffdf6" opacity="1.0"/>
<rect x="301.2" y="118.7" width="65" height="1.9" fill="#fffdf6" opacity="1.0"/>
<rect x="301.2" y="124.1" width="65" height="1.6" fill="#fffdf6" opacity="0.95"/>
<rect x="301.2" y="130.1" width="65" height="1.0" fill="#fffdf6" opacity="0.5"/>
<rect x="301.2" y="141.6" width="65" height="2.4" fill="#fffdf6" opacity="1.0"/>
<rect x="301.2" y="137.6" width="33" height="1.6" fill="#fffdf6" opacity="0.9"/>
<path d="M300.2 105.3 V146.2 M366.8 105.3 V145 M300 106.1 H367.5 M303 145.3 H365" stroke="#231d18" stroke-width="1.7" fill="none"/>
<path d="M333.5 100 V146" stroke="#2a1c16" stroke-width="1.3" fill="none"/>
<rect x="323" y="147" width="20" height="282" fill="#f1692a"/>
<path d="M323.5 146 V429.5 H348 M342.8 146 V429.5" stroke="#2e2823" stroke-width="1.6" fill="none"/>
<path d="M327 147 l2 3 l2 -3 M336 147 l2 3 l2 -3" stroke="#fff6e8" stroke-width="1" fill="none" opacity="0.7"/>
<path d="M333.5 147 L333.6 429" stroke="#5a2010" stroke-width="1.1" opacity="0.85"/>
<rect x="611.5" y="354.2" width="137.5" height="16.6" fill="#f29058"/>
<rect x="611.5" y="360.5" width="137.5" height="5" fill="#ea6a32"/>
<path d="M612.0 353.6L612.8 354.9L613.6 355.9L614.4 356.1L615.2 355.6L616.0 354.6L616.8 353.4L617.6 352.4L618.4 352.0L619.2 352.3L620.0 353.2L620.8 354.3L621.6 355.4L622.4 355.9L623.2 355.7L624.0 354.9L624.8 353.6L625.6 352.2L626.4 351.2L627.2 350.9L628.0 351.3L628.8 352.4L629.6 353.6L630.4 354.7L631.2 355.3L632.0 355.1L632.8 354.3L633.6 353.2L634.4 352.2L635.2 351.6L636.0 351.6L636.8 352.4L637.6 353.7L638.4 355.0L639.2 356.0L640.0 356.4L640.8 356.0L641.6 355.0L642.4 353.7L643.2 352.5L644.0 351.8L644.8 351.8L645.6 352.5L646.4 353.6L647.2 354.7L648.0 355.4L648.8 355.4L649.6 354.7L650.4 353.6L651.2 352.2L652.0 351.2L652.8 350.8L653.6 351.2L654.4 352.2L655.2 353.5L656.0 354.8L656.8 355.5L657.6 355.6L658.4 355.0L659.2 354.0L660.0 352.8L660.8 352.1L661.6 351.9L662.4 352.5L663.2 353.6L664.0 354.8L664.8 355.9L665.6 356.3L666.4 356.0L667.2 355.0L668.0 353.7L668.8 352.4L669.6 351.5L670.4 351.3L671.2 351.9L672.0 352.9L672.8 354.1L673.6 354.9L674.4 355.2L675.2 354.8L676.0 353.8L676.8 352.6L677.6 351.5L678.4 351.0L679.2 351.3L680.0 352.2L680.8 353.6L681.6 354.9L682.4 355.8L683.2 356.1L684.0 355.6L684.8 354.6L685.6 353.4L686.4 352.4L687.2 352.0L688.0 352.3L688.8 353.2L689.6 354.3L690.4 355.4L691.2 355.9L692.0 355.8L692.8 354.9L693.6 353.6L694.4 352.2L695.2 351.2L696.0 350.9L696.8 351.4L697.6 352.4L698.4 353.6L699.2 354.7L700.0 355.3L700.8 355.1L701.6 354.3L702.4 353.2L703.2 352.1L704.0 351.5L704.8 351.6L705.6 352.4L706.4 353.6L707.2 355.0L708.0 356.0L708.8 356.4L709.6 356.0L710.4 355.0L711.2 353.7L712.0 352.5L712.8 351.8L713.6 351.9L714.4 352.6L715.2 353.6L716.0 354.7L716.8 355.4L717.6 355.4L718.4 354.8L719.2 353.6L720.0 352.2L720.8 351.2L721.6 350.8L722.4 351.2L723.2 352.1L724.0 353.5L724.8 354.7L725.6 355.5L726.4 355.6L727.2 355.0L728.0 353.9L728.8 352.8L729.6 352.0L730.4 351.9L731.2 352.5L732.0 353.6L732.8 354.8L733.6 355.9L734.4 356.3L735.2 356.0L736.0 355.1L736.8 353.7L737.6 352.4L738.4 351.5L739.2 351.4L740.0 351.9L740.8 352.9L741.6 354.1L742.4 355.0L743.2 355.2L744.0 354.8L744.8 353.8L745.6 352.6L746.4 351.5L747.2 351.0L748.0 351.3" stroke="#241711" stroke-width="2" fill="none" stroke-linejoin="round"/>
<path d="M612.0 373.4L612.8 373.2L613.6 372.5L614.4 371.3L615.2 370.2L616.0 369.6L616.8 369.7L617.6 370.4L618.4 371.6L619.2 372.8L620.0 373.6L620.8 373.8L621.6 373.2L622.4 372.1L623.2 370.7L624.0 369.5L624.8 368.8L625.6 368.9L626.4 369.6L627.2 370.8L628.0 371.9L628.8 372.7L629.6 372.7L630.4 372.2L631.2 371.1L632.0 369.9L632.8 369.0L633.6 368.8L634.4 369.3L635.2 370.4L636.0 371.8L636.8 373.0L637.6 373.7L638.4 373.7L639.2 373.0L640.0 371.9L640.8 370.6L641.6 369.8L642.4 369.6L643.2 370.0L644.0 371.0L644.8 372.2L645.6 373.1L646.4 373.4L647.2 373.0L648.0 372.0L648.8 370.6L649.6 369.3L650.4 368.6L651.2 368.5L652.0 369.2L652.8 370.4L653.6 371.7L654.4 372.6L655.2 373.0L656.0 372.6L656.8 371.7L657.6 370.6L658.4 369.6L659.2 369.2L660.0 369.5L660.8 370.5L661.6 371.8L662.4 373.0L663.2 373.8L664.0 373.9L664.8 373.3L665.6 372.1L666.4 370.8L667.2 369.7L668.0 369.2L668.8 369.5L669.6 370.3L670.4 371.5L671.2 372.5L672.0 373.0L672.8 372.8L673.6 371.9L674.4 370.7L675.2 369.4L676.0 368.6L676.8 368.5L677.6 369.1L678.4 370.3L679.2 371.6L680.0 372.8L680.8 373.4L681.6 373.2L682.4 372.4L683.2 371.3L684.0 370.2L684.8 369.6L685.6 369.7L686.4 370.4L687.2 371.6L688.0 372.8L688.8 373.6L689.6 373.8L690.4 373.3L691.2 372.1L692.0 370.7L692.8 369.5L693.6 368.8L694.4 368.9L695.2 369.7L696.0 370.8L696.8 371.9L697.6 372.7L698.4 372.7L699.2 372.1L700.0 371.1L700.8 369.9L701.6 369.0L702.4 368.7L703.2 369.2L704.0 370.3L704.8 371.7L705.6 373.0L706.4 373.7L707.2 373.7L708.0 373.0L708.8 371.9L709.6 370.6L710.4 369.8L711.2 369.6L712.0 370.1L712.8 371.1L713.6 372.2L714.4 373.1L715.2 373.4L716.0 373.0L716.8 372.0L717.6 370.6L718.4 369.4L719.2 368.6L720.0 368.5L720.8 369.2L721.6 370.4L722.4 371.6L723.2 372.6L724.0 373.0L724.8 372.6L725.6 371.7L726.4 370.5L727.2 369.6L728.0 369.2L728.8 369.5L729.6 370.4L730.4 371.8L731.2 373.0L732.0 373.8L732.8 373.9L733.6 373.3L734.4 372.1L735.2 370.8L736.0 369.7L736.8 369.3L737.6 369.5L738.4 370.4L739.2 371.5L740.0 372.5L740.8 373.0L741.6 372.8L742.4 372.0L743.2 370.7L744.0 369.5L744.8 368.6L745.6 368.5L746.4 369.1L747.2 370.2L748.0 371.6" stroke="#241711" stroke-width="2" fill="none" stroke-linejoin="round"/>
<path d="M749 352.5 V373.5" stroke="#241711" stroke-width="2"/>
<path d="M612 363.1 L749 363.6" stroke="#3a1e14" stroke-width="1.3" opacity="0.85"/>
<rect x="604" y="340.8" width="7.2" height="43.4" fill="#dc8250" stroke="#241711" stroke-width="1.5"/>
<path d="M617 344.6L672 344.6" stroke="#1f1b19" stroke-width="1.6" fill="none" stroke-linecap="round" />
<path d="M614.5 379.6L675.5 379.6" stroke="#1f1b19" stroke-width="1.6" fill="none" stroke-linecap="round" />
<rect x="677" y="344.3" width="25.5" height="6.6" fill="#7d4e30" stroke="#241711" stroke-width="1.3"/>
<rect x="677" y="374.4" width="25.5" height="6.4" fill="#7d4e30" stroke="#241711" stroke-width="1.3"/>
<path d="M105.1 42.9C99.7 42.9 97.4 48.1 98.2 51.5C99.0 55.1 106.4 55.4 109.6 51.2C111.8 47.2 109.3 42.6 104.5 43.2M112.3 40.5L97.9 56.5" stroke="#1c1f4e" stroke-width="2.4" fill="none" stroke-linecap="round" stroke-linejoin="round"/>
<path d="M117.8 44.0C119.4 40.9 127.4 39.8 126.9 43.9C126.5 47.4 119.0 51.0 115.2 54.0C119.7 53.5 123.6 53.5 127.4 53.8" stroke="#1c1f4e" stroke-width="2.5" fill="none" stroke-linecap="round" stroke-linejoin="round"/>
<path d="M85.6 233.8L80.8 247.7M96.0 242.1C94.4 240.3 89.0 241.4 88.3 245.2C87.8 248.0 93.4 247.7 95.5 245.0M96.7 241.2L95.1 247.7M103.4 241.5L101.6 247.7M104.5 237.3L104.3 238.2M113.0 235.2L109.6 247.7M108.2 241.4L115.0 241.2M122.9 241.2C119.2 241.2 117.8 244.5 118.2 246.1C118.5 248.0 123.6 248.0 125.5 245.4C126.8 243.2 125.7 241.2 122.5 241.4M131.0 241.2L129.7 247.7M130.6 243.4C132.5 240.8 138.5 240.1 137.9 243.4L137.1 247.7" stroke="#1c1f4e" stroke-width="2.2" fill="none" stroke-linecap="round" stroke-linejoin="round"/>
<path d="M166.9 236.2C161.9 236.2 159.9 241.8 160.6 245.5C161.3 249.4 168.1 249.7 171.0 245.1C173.1 240.8 170.7 235.9 166.3 236.6M173.5 233.6L160.3 250.9" stroke="#1c1f4e" stroke-width="2.2" fill="none" stroke-linecap="round" stroke-linejoin="round"/>
<path d="M189.8 241.0C186.1 241.0 183.5 243.5 182.9 245.3C182.3 247.3 185.0 247.9 187.7 247.4C190.9 246.6 192.8 244.2 192.5 242.4C192.3 241.2 190.7 240.8 189.0 241.2" stroke="#1c1f4e" stroke-width="2.3" fill="none" stroke-linecap="round" stroke-linejoin="round"/>
<path d="M197.2 247.2L197.2 247.5" stroke="#1c1f4e" stroke-width="2.4" fill="none" stroke-linecap="round" stroke-linejoin="round"/>
<path d="M213.1 238.2C211.7 236.6 205.0 236.8 204.6 239.2C204.5 241.7 213.8 242.4 213.4 245.1C212.9 248.2 201.6 248.4 201.6 245.3C201.9 242.4 213.0 241.5 214.0 239.0C214.7 237.5 213.4 236.8 212.0 236.9" stroke="#1c1f4e" stroke-width="2.4" fill="none" stroke-linecap="round" stroke-linejoin="round"/>
<path d="M77.1 317.3L72.5 334.9M71.0 325.8L79.6 325.5M82.9 330.3L92.3 329.7C93.4 325.8 86.6 324.0 83.6 328.4C81.1 332.6 85.3 335.8 92.3 333.6M98.1 325.5L96.2 334.9M97.5 328.7C99.9 325.0 107.6 324.0 106.7 328.7L105.6 334.9M121.2 327.6C119.2 324.5 112.4 325.8 111.4 331.3C110.7 335.3 117.9 334.9 120.4 331.6M124.8 315.3L120.0 334.9M126.4 330.3L135.7 329.7C136.8 325.8 130.0 324.0 127.1 328.4C124.5 332.6 128.7 335.8 135.7 333.6M141.5 325.5L140.2 331.6C140.0 335.3 147.5 335.3 149.4 331.0M150.7 325.5L148.8 334.9M155.7 325.5L153.8 334.9M155.0 329.4C157.4 326.0 160.8 325.0 163.5 326.0" stroke="#1c1f4e" stroke-width="1.9" fill="none" stroke-linecap="round" stroke-linejoin="round"/>
<path d="M317.1 12.9C318.6 10.2 326.6 9.2 326.1 12.8C325.7 15.9 318.2 19.0 314.5 21.6C318.9 21.2 322.8 21.2 326.7 21.4M343.3 11.1C337.7 9.2 330.4 12.9 329.4 17.8C328.7 20.9 331.3 21.8 334.7 21.8C338.7 21.8 340.8 19.7 340.3 17.8C339.7 15.4 333.9 15.4 329.8 17.3" stroke="#1c1f4e" stroke-width="2.4" fill="none" stroke-linecap="round" stroke-linejoin="round"/>
<path d="M514.9 41.6C509.7 41.6 507.5 46.9 508.3 50.3C509.1 54.0 516.1 54.3 519.1 50.0C521.2 45.9 518.8 41.3 514.2 41.9M521.7 39.1L508.0 55.4" stroke="#1c1f4e" stroke-width="2.6" fill="none" stroke-linecap="round" stroke-linejoin="round"/>
<path d="M528.1 43.1C529.8 40.5 538.6 39.6 538.1 43.0C537.7 45.9 529.4 48.7 525.3 51.2C530.2 50.9 534.5 50.9 538.7 51.1" stroke="#1c1f4e" stroke-width="2.6" fill="none" stroke-linecap="round" stroke-linejoin="round"/>
<path d="M396.8 184.1C391.1 184.1 388.8 190.1 389.6 193.9C390.5 198.1 398.1 198.5 401.4 193.6C403.7 189.0 401.1 183.8 396.1 184.5M404.2 181.3L389.3 199.7" stroke="#1c1f4e" stroke-width="2.6" fill="none" stroke-linecap="round" stroke-linejoin="round"/>
<path d="M410.5 185.8C412.1 183.0 420.6 182.0 420.1 185.7C419.7 188.8 411.7 192.0 407.8 194.7C412.5 194.3 416.6 194.3 420.7 194.6" stroke="#1c1f4e" stroke-width="2.6" fill="none" stroke-linecap="round" stroke-linejoin="round"/>
<path d="M679.9 41.0L676.1 55.9M674.4 46.8L682.8 46.5M690.7 46.5C686.2 46.5 684.4 51.3 684.9 53.6C685.3 56.3 691.5 56.3 693.9 52.6C695.6 49.4 694.2 46.5 690.3 46.8M687.6 44.3L690.8 41.7L693.1 44.3M703.9 39.8L698.5 55.9M706.3 51.3L715.4 50.7C716.3 46.8 709.7 45.5 707.0 49.4C704.6 53.6 708.7 56.8 715.4 54.6" stroke="#1c1f4e" stroke-width="2.3" fill="none" stroke-linecap="round" stroke-linejoin="round"/>
<path d="M730.7 47.9L730.7 48.3M730.7 55.0L730.7 55.5" stroke="#1c1f4e" stroke-width="2.3" fill="none" stroke-linecap="round" stroke-linejoin="round"/>
<path d="M757.0 41.6L751.8 57.1M766.0 49.3C764.4 47.3 758.9 48.4 757.9 53.7C757.2 57.6 763.0 57.1 765.3 53.4M766.8 48.1L764.7 57.1M770.0 48.1L768.1 57.1M769.3 51.8C771.3 48.6 774.0 47.8 776.2 48.6M785.5 49.3C783.9 47.3 778.4 48.4 777.6 52.8C776.9 56.5 782.7 55.9 784.9 52.4M786.3 48.1L783.7 59.9C782.3 63.6 777.1 63.6 775.8 61.4M788.6 52.8L796.2 52.1C797.1 48.4 791.6 47.2 789.2 50.9C787.0 54.9 790.3 58.0 796.1 55.9M800.1 48.1L798.8 54.0C798.6 57.6 804.6 57.6 806.3 53.4M807.5 48.1L805.7 57.1M810.7 48.1L808.9 57.1M810.0 51.8C812.0 48.6 814.7 47.8 816.9 48.6" stroke="#1c1f4e" stroke-width="2.2" fill="none" stroke-linecap="round" stroke-linejoin="round"/>
<path d="M850.8 44.1C845.9 42.7 840.1 45.5 839.5 49.2C839.1 51.5 841.3 52.2 844.2 52.2C847.5 52.2 849.1 50.6 848.6 49.2C848.0 47.4 843.2 47.4 839.8 48.8" stroke="#1c1f4e" stroke-width="2.5" fill="none" stroke-linecap="round" stroke-linejoin="round"/>
<path d="M858.1 57.1L854.4 60.4" stroke="#1c1f4e" stroke-width="2.3" fill="none" stroke-linecap="round" stroke-linejoin="round"/>
<path d="M875.4 48.2L881.9 47.5C882.1 43.5 877.2 42.1 875.7 46.2C874.5 50.6 877.8 53.9 882.4 51.6M877.9 40.4L879.6 37.8" stroke="#1c1f4e" stroke-width="2.3" fill="none" stroke-linecap="round" stroke-linejoin="round"/>
<path d="M885.9 46.1L884.6 62.4M885.4 49.6C888.3 45.5 898.5 45.8 898.1 50.6C897.6 55.8 888.3 56.1 885.4 54.4" stroke="#1c1f4e" stroke-width="2.3" fill="none" stroke-linecap="round" stroke-linejoin="round"/>
<path d="M920.7 46.2C917.6 46.2 915.5 48.6 915.0 50.2C914.5 52.0 916.7 52.6 918.9 52.1C921.6 51.4 923.2 49.2 922.9 47.6C922.7 46.4 921.4 46.1 920.1 46.5" stroke="#1c1f4e" stroke-width="2.5" fill="none" stroke-linecap="round" stroke-linejoin="round"/>
<path d="M926.2 52.2L926.2 52.2" stroke="#1c1f4e" stroke-width="2.5" fill="none" stroke-linecap="round" stroke-linejoin="round"/>
<path d="M939.0 44.5C937.5 42.7 931.2 42.9 931.1 45.6C931.2 48.2 939.9 48.9 939.8 51.8C939.5 55.0 929.0 55.3 928.8 52.0C928.8 48.9 939.1 47.9 939.9 45.3C940.3 43.7 939.1 42.9 937.8 43.1" stroke="#1c1f4e" stroke-width="2.5" fill="none" stroke-linecap="round" stroke-linejoin="round"/>
<path d="M583.4 71.7L576.2 80.7L587.2 80.4M585.1 75.8L583.1 85.3" stroke="#1c1f4e" stroke-width="2.5" fill="none" stroke-linecap="round" stroke-linejoin="round"/>
<path d="M593.9 77.7C590.9 77.7 588.8 79.9 588.3 81.5C587.8 83.3 590.0 83.9 592.2 83.4C594.8 82.7 596.4 80.6 596.1 79.0C595.9 77.8 594.6 77.5 593.3 77.9" stroke="#1c1f4e" stroke-width="2.5" fill="none" stroke-linecap="round" stroke-linejoin="round"/>
<path d="M576.9 102.4C578.2 99.8 585.3 98.9 584.9 102.3C584.6 105.2 577.9 108.0 574.6 110.5C578.5 110.2 582.0 110.2 585.4 110.4" stroke="#1c1f4e" stroke-width="2.6" fill="none" stroke-linecap="round" stroke-linejoin="round"/>
<path d="M599.5 100.5C595.5 99.0 590.8 101.9 590.2 105.7C589.9 108.2 591.7 108.9 594.1 108.9C596.9 108.9 598.1 107.2 597.7 105.7C597.2 103.9 593.3 103.9 590.5 105.4" stroke="#1c1f4e" stroke-width="2.6" fill="none" stroke-linecap="round" stroke-linejoin="round"/>
<path d="M576.7 131.5C577.7 129.1 583.0 128.3 582.8 131.4C582.7 134.2 577.8 136.9 575.4 139.2C578.4 138.9 581.0 138.9 583.6 139.1" stroke="#1c1f4e" stroke-width="2.6" fill="none" stroke-linecap="round" stroke-linejoin="round"/>
<path d="M595.9 129.3L590.8 138.3L598.6 138.1M597.1 133.4L595.7 142.9" stroke="#1c1f4e" stroke-width="2.5" fill="none" stroke-linecap="round" stroke-linejoin="round"/>
<path d="M576.8 161.8C577.9 159.3 582.9 158.5 582.5 161.7C582.1 164.4 577.3 167.2 574.9 169.5C577.7 169.2 580.1 169.2 582.5 169.4" stroke="#1c1f4e" stroke-width="2.6" fill="none" stroke-linecap="round" stroke-linejoin="round"/>
<path d="M590.4 161.8C591.7 159.3 597.4 158.5 596.9 161.7C596.5 164.4 591.0 167.2 588.2 169.5C591.4 169.2 594.2 169.2 596.9 169.4" stroke="#1c1f4e" stroke-width="2.6" fill="none" stroke-linecap="round" stroke-linejoin="round"/>
<path d="M577.2 185.6C578.8 182.7 586.4 181.6 585.7 185.5C585.2 188.8 577.9 192.2 574.3 195.0C578.5 194.6 582.1 194.6 585.7 194.9" stroke="#1c1f4e" stroke-width="2.6" fill="none" stroke-linecap="round" stroke-linejoin="round"/>
<path d="M595.4 186.9C591.7 186.9 589.5 190.3 589.3 192.6C589.0 195.2 591.9 196.1 594.5 195.3C597.6 194.4 599.1 191.2 598.5 188.9C598.0 187.2 596.3 186.7 594.8 187.3" stroke="#1c1f4e" stroke-width="2.6" fill="none" stroke-linecap="round" stroke-linejoin="round"/>
<path d="M576.0 217.1L585.2 212.7L580.3 221.5" stroke="#1c1f4e" stroke-width="2.6" fill="none" stroke-linecap="round" stroke-linejoin="round"/>
<path d="M598.8 213.2C597.6 212.0 592.1 212.1 592.0 214.0C592.0 215.9 599.7 216.4 599.5 218.5C599.3 220.8 590.2 221.0 589.9 218.6C589.9 216.4 598.9 215.7 599.6 213.8C600.0 212.6 598.9 212.1 597.8 212.2" stroke="#1c1f4e" stroke-width="2.6" fill="none" stroke-linecap="round" stroke-linejoin="round"/>
<path d="M579.9 242.1L586.3 238.9L582.9 245.3" stroke="#1c1f4e" stroke-width="2.6" fill="none" stroke-linecap="round" stroke-linejoin="round"/>
<path d="M600.2 238.7C596.0 237.1 591.0 240.2 590.4 244.2C590.1 246.8 592.0 247.6 594.5 247.6C597.4 247.6 598.8 245.8 598.3 244.2C597.8 242.3 593.6 242.3 590.7 243.9" stroke="#1c1f4e" stroke-width="2.6" fill="none" stroke-linecap="round" stroke-linejoin="round"/>
<path d="M645.2 273.3L641.5 286.0M639.9 278.3L648.1 278.0M655.8 278.0C651.4 278.0 649.7 282.1 650.2 284.1C650.6 286.4 656.7 286.4 658.9 283.2C660.6 280.5 659.2 278.0 655.5 278.3M652.8 276.1L655.9 273.9L658.2 276.1M668.7 272.2L663.5 286.0M671.1 282.1L680.0 281.6C681.0 278.3 674.4 277.2 671.8 280.5C669.4 284.1 673.5 286.8 680.1 284.9" stroke="#1c1f4e" stroke-width="2.4" fill="none" stroke-linecap="round" stroke-linejoin="round"/>
<path d="M559.9 297.3C555.6 297.3 551.8 301.1 550.6 303.8C549.3 306.8 552.2 307.8 555.5 306.9C559.5 305.8 562.4 302.2 562.6 299.5C562.7 297.6 561.0 297.1 558.9 297.7" stroke="#1c1f4e" stroke-width="2.6" fill="none" stroke-linecap="round" stroke-linejoin="round"/>
<path d="M565.8 307.3L565.8 307.2" stroke="#1c1f4e" stroke-width="2.6" fill="none" stroke-linecap="round" stroke-linejoin="round"/>
<path d="M585.9 296.3L577.7 296.8L575.8 301.4C579.2 300.0 583.1 300.7 582.5 303.9C581.9 307.1 577.1 308.0 573.3 306.4" stroke="#1c1f4e" stroke-width="2.6" fill="none" stroke-linecap="round" stroke-linejoin="round"/>
<path d="M682.0 300.1L678.4 314.5M679.5 310.2C682.3 306.2 689.6 306.2 688.5 310.2C687.4 314.5 680.7 314.9 678.5 313.8M700.8 307.3C698.7 305.4 692.2 306.4 691.3 311.3C690.6 314.9 697.6 314.5 700.2 311.0M701.7 306.2L699.7 314.5M713.7 307.3C711.6 305.4 705.0 306.4 704.2 310.5C703.6 313.9 710.7 313.4 713.1 310.2M714.6 306.2L712.1 317.1C710.6 320.6 704.3 320.6 702.6 318.5M718.0 306.2L716.9 311.6C716.8 314.9 724.1 314.9 725.8 311.0M727.0 306.2L725.3 314.5M729.7 310.5L738.8 309.9C739.8 306.4 733.1 305.3 730.4 308.7C728.0 312.5 732.1 315.4 738.9 313.4" stroke="#1c1f4e" stroke-width="2.2" fill="none" stroke-linecap="round" stroke-linejoin="round"/>
<path d="M776.3 351.5L779.8 360.0L783.5 351.5" stroke="#1c1f4e" stroke-width="2.0" fill="none" stroke-linecap="round" stroke-linejoin="round"/>
<path d="M788.2 348.3L786.0 360.1M789.0 342.9L789.0 344.0" stroke="#1c1f4e" stroke-width="1.9" fill="none" stroke-linecap="round" stroke-linejoin="round"/>
<path d="M802.0 352.6C798.2 351.2 793.8 352.4 794.5 354.9C795.4 357.6 802.0 356.9 802.0 359.6C802.0 362.2 796.4 362.2 793.0 360.8" stroke="#1c1f4e" stroke-width="2.0" fill="none" stroke-linecap="round" stroke-linejoin="round"/>
<path d="M819.0 365.6L823.0 346.1L825.9 358.1L832.0 346.1L830.4 365.6" stroke="#1c1f4e" stroke-width="2.1" fill="none" stroke-linecap="round" stroke-linejoin="round"/>
<path d="M835.7 356.9C836.8 355.4 843.2 354.9 843.0 356.8C842.9 358.5 836.9 360.2 834.0 361.6C837.6 361.5 840.8 361.5 844.0 361.6" stroke="#1c1f4e" stroke-width="2.1" fill="none" stroke-linecap="round" stroke-linejoin="round"/>
<path d="M674.6 403.9L681.9 398.4L678.0 409.4" stroke="#1c1f4e" stroke-width="2.7" fill="none" stroke-linecap="round" stroke-linejoin="round"/>
<path d="M688.3 398.4C692.1 396.6 697.1 397.3 695.9 399.6C694.9 401.4 692.0 402.1 690.6 402.2C695.8 402.3 696.8 404.6 695.7 406.4C693.9 408.9 688.6 408.7 686.6 407.3" stroke="#1c1f4e" stroke-width="2.6" fill="none" stroke-linecap="round" stroke-linejoin="round"/>
<path d="M17.0 193.2L11.2 181.9L22.8 187.0M12.7 168.5C11.0 170.2 11.2 176.9 13.8 176.7C16.3 176.4 17.0 166.9 19.9 166.8C23.0 166.7 23.3 177.9 20.0 178.5C17.0 178.9 16.1 168.0 13.5 167.4C11.9 167.1 11.2 168.5 11.3 169.8" stroke="#1c1f4e" stroke-width="2.4" fill="none" stroke-linecap="round" stroke-linejoin="round"/>
<path d="M261.6 299.2C258.7 298.0 257.7 289.7 261.4 289.6C264.7 289.5 268.0 297.0 270.7 300.5C270.4 295.8 270.4 291.7 270.6 287.5M259.7 271.2C257.7 277.5 261.6 284.6 266.7 285.0C270.0 285.2 271.0 282.2 271.0 278.6C271.0 274.3 268.7 272.5 266.7 273.3C264.2 274.3 264.2 280.5 266.2 284.6" stroke="#1c1f4e" stroke-width="2.4" fill="none" stroke-linecap="round" stroke-linejoin="round"/>
</svg>
</body></html>
